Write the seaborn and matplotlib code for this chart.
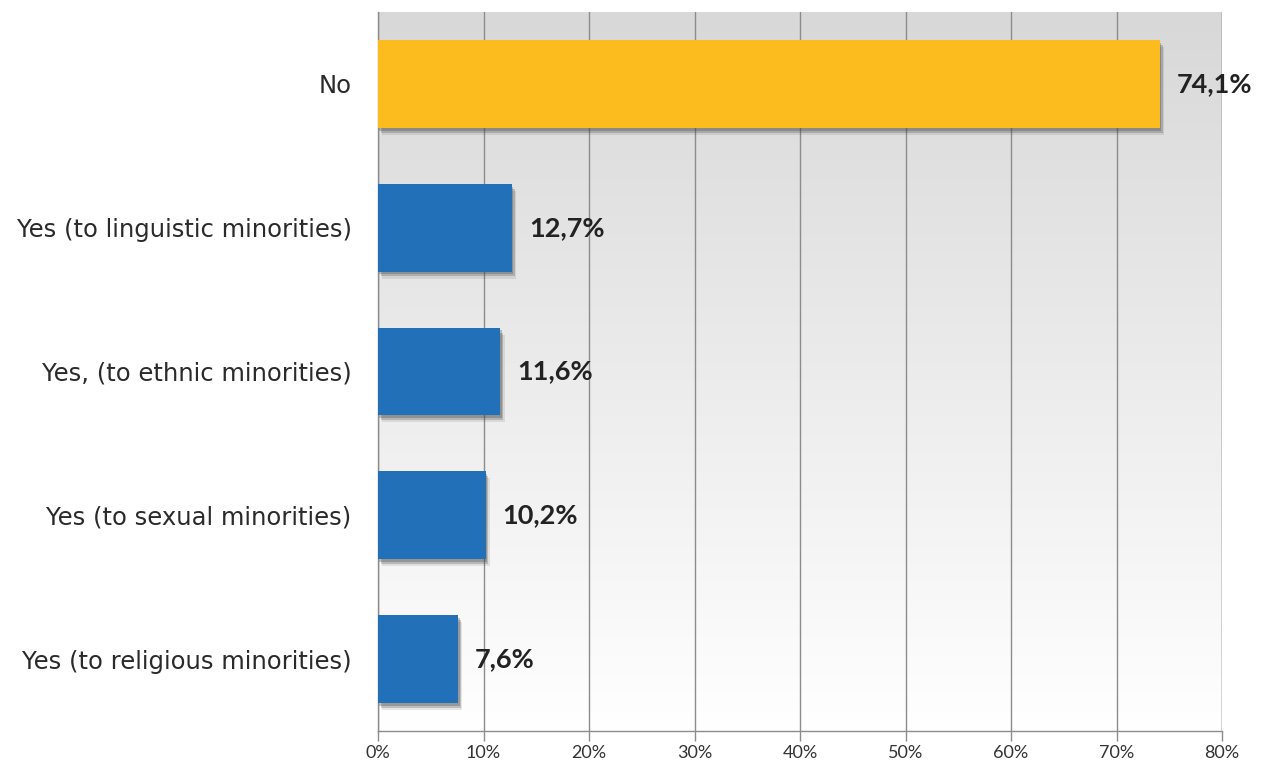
import numpy as np
import pandas as pd
import matplotlib
matplotlib.use("Agg")
import matplotlib.pyplot as plt
import matplotlib.patheffects as pe
import seaborn as sns

categories = [
    "No",
    "Yes (to linguistic minorities)",
    "Yes, (to ethnic minorities)",
    "Yes (to sexual minorities)",
    "Yes (to religious minorities)",
]
values = [74.1, 12.7, 11.6, 10.2, 7.6]
value_labels = ["74,1%", "12,7%", "11,6%", "10,2%", "7,6%"]
tick_values = [0, 10, 20, 30, 40, 50, 60, 70, 80]
tick_labels = ["0%", "10%", "20%", "30%", "40%", "50%", "60%", "70%", "80%"]
bar_colors = ["#FDBC1E", "#2170B8", "#2170B8", "#2170B8", "#2170B8"]

sns.set_theme(style="white")
plt.rcParams["font.family"] = ["DejaVu Sans"]

df = pd.DataFrame({"category": categories, "value": values})

fig = plt.figure(figsize=(12.67, 7.64), dpi=100)
ax = fig.add_axes([378 / 1267, 1 - 731 / 764, (1222 - 378) / 1267, (731 - 12) / 764])

# vertical gradient background: light grey at top fading to white
grad = np.linspace(0, 1, 256).reshape(-1, 1)
ax.imshow(grad, extent=[0, 80, 4.5, -0.5], aspect="auto",
          cmap=matplotlib.colors.LinearSegmentedColormap.from_list(
              "bg", ["#D8D8D8", "#FFFFFF"]), zorder=0)

sns.barplot(data=df, x="value", y="category", hue="category",
            palette=bar_colors, legend=False, width=0.61, ax=ax,
            saturation=1, zorder=3)

# soft drop shadow under each bar
for p in ax.patches:
    p.set_edgecolor("none")
    p.set_path_effects([
        pe.SimplePatchShadow(offset=(3, -5), shadow_rgbFace="#444444", alpha=0.12),
        pe.SimplePatchShadow(offset=(2, -3.5), shadow_rgbFace="#444444", alpha=0.25),
        pe.SimplePatchShadow(offset=(1, -2), shadow_rgbFace="#444444", alpha=0.3),
        pe.Normal(),
    ])

for i, (v, lab) in enumerate(zip(values, value_labels)):
    ax.text(v + 1.6, i, lab, va="center", ha="left", fontsize=19.5,
            fontweight="bold", color="#222222", family=["Lato", "DejaVu Sans"],
            zorder=5)

ax.set_xlim(0, 80)
ax.set_ylim(4.5, -0.5)
ax.set_xticks(tick_values)
ax.set_xticklabels(tick_labels, fontsize=13, color="#333333",
                   family=["Lato", "DejaVu Sans"])
ax.xaxis.grid(True, color="#8C8C8C", linewidth=1.0, zorder=1)
ax.set_axisbelow(True)
ax.tick_params(axis="x", which="both", bottom=True, length=7, width=1.0,
               color="#8C8C8C", pad=3)
ax.tick_params(axis="y", length=0, pad=19, labelsize=17.5, labelcolor="#2a2a2a")
ax.set_xlabel("")
ax.set_ylabel("")

for side in ["top", "right"]:
    ax.spines[side].set_visible(False)
ax.spines["left"].set_color("#8C8C8C")
ax.spines["bottom"].set_color("#8C8C8C")
ax.spines["left"].set_linewidth(1.0)
ax.spines["bottom"].set_linewidth(1.0)
ax.axvline(80, color="#8C8C8C", linewidth=1.0, zorder=1)

fig.savefig("out.png", dpi=100)
